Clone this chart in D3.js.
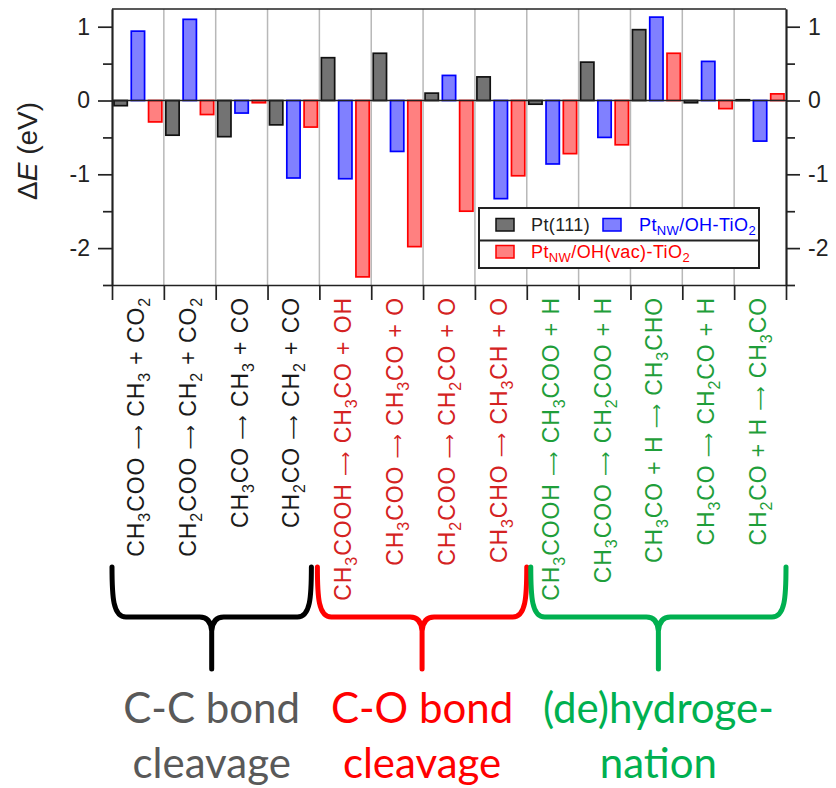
<!DOCTYPE html>
<html><head><meta charset="utf-8">
<script src="https://cdn.jsdelivr.net/npm/d3@7"></script>
<style>
html,body{margin:0;padding:0;background:#fff;}
svg{display:block;}
</style></head>
<body><div id="chart"></div>
<script>
// ---- data ----
const categories = [
  "CH_3COO → CH_3 + CO_2",
  "CH_2COO → CH_2 + CO_2",
  "CH_3CO → CH_3 + CO",
  "CH_2CO → CH_2 + CO",
  "CH_3COOH → CH_3CO + OH",
  "CH_3COO → CH_3CO + O",
  "CH_2COO → CH_2CO + O",
  "CH_3CHO → CH_3CH + O",
  "CH_3COOH → CH_3COO + H",
  "CH_3COO → CH_2COO + H",
  "CH_3CO + H → CH_3CHO",
  "CH_3CO → CH_2CO + H",
  "CH_2CO + H → CH_3CO"
];
const categoryGroup = ["cc","cc","cc","cc","co","co","co","co","dh","dh","dh","dh","dh"];
const seriesNames = ["Pt(111)", "Pt_NW/OH-TiO_2", "Pt_NW/OH(vac)-TiO_2"];
const pt111   = [-0.07, -0.47, -0.49, -0.33, 0.58, 0.64, 0.10, 0.32, -0.05, 0.52, 0.96, -0.03, 0.01];
const ptNwOH  = [0.94, 1.10, -0.17, -1.05, -1.06, -0.69, 0.34, -1.33, -0.86, -0.50, 1.13, 0.53, -0.55];
const ptNwVac = [-0.29, -0.19, -0.03, -0.36, -2.39, -1.98, -1.50, -1.02, -0.72, -0.60, 0.64, -0.11, 0.09];
const yMajorTicks = [-2, -1, 0, 1];
const yMinorTicks = [-2.5, -1.5, -0.5, 0.5];
const groupNames = ["cc","co","dh"];
const groupLabels = [["C-C bond","cleavage"],["C-O bond","cleavage"],["(de)hydroge-","nation"]];
const groupFirst = [0, 4, 8];
const groupLast = [3, 7, 12];

// ---- styles ----
const W = 836, H = 788;
const mLeft = 112, mRight = 786, mTop = 9, mBottom = 285;
const seriesFill = ["#737373", "#8080ff", "#ff8080"];
const seriesStroke = ["#111111", "#0000ff", "#ff0000"];
const labelColor = {cc:"#1a1a1a", co:"#d42222", dh:"#1f9e3a"};
const braceColor = {cc:"#000000", co:"#ff0000", dh:"#00b050"};
const groupTextColor = {cc:"#595959", co:"#ff0000", dh:"#00b050"};
const sansFont = "'Liberation Sans', Arial, Helvetica, sans-serif";

const svg = d3.select("#chart").append("svg").attr("width", W).attr("height", H)
  .style("font-family", sansFont);
svg.append("rect").attr("width", W).attr("height", H).attr("fill", "#fff");

const x = d3.scaleBand().domain(d3.range(categories.length)).range([mLeft, mRight]).padding(0);
const xs = d3.scaleBand().domain([0,1,2]).range([0, x.bandwidth()]).paddingInner(0.23).paddingOuter(0.115);
const y = d3.scaleLinear().domain([-2.5, 1.24]).range([mBottom, mTop]);

// gridlines
svg.append("g").selectAll("line").data(d3.range(1, categories.length)).join("line")
  .attr("x1", d => x(d)).attr("x2", d => x(d)).attr("y1", mTop).attr("y2", mBottom)
  .attr("stroke", "#b8b8b8").attr("stroke-width", 1.5);

// bars
const seriesData = [pt111, ptNwOH, ptNwVac];
seriesData.forEach((vals, s) => {
  svg.append("g").selectAll("rect").data(vals).join("rect")
    .attr("x", (d, i) => x(i) + xs(s))
    .attr("width", xs.bandwidth())
    .attr("y", d => y(Math.max(0, d)))
    .attr("height", d => Math.max(0.8, Math.abs(y(d) - y(0))))
    .attr("fill", seriesFill[s])
    .attr("stroke", seriesStroke[s])
    .attr("stroke-width", 1.7);
});

// zero line
svg.append("line").attr("x1", mLeft).attr("x2", mRight).attr("y1", y(0)).attr("y2", y(0))
  .attr("stroke", "#222").attr("stroke-width", 1.6);

// axes
const axisStyle = g => {
  g.select(".domain").attr("stroke", "#222").attr("stroke-width", 1.7);
  g.selectAll(".tick line").attr("stroke", "#222").attr("stroke-width", 1.7);
  g.selectAll(".tick text").attr("fill", "#222").style("font-size", "23px")
    .style("font-family", sansFont);
};
const fmt = d => d < 0 ? "-" + Math.abs(d) : String(d);
svg.append("g").attr("transform", `translate(${mLeft},0)`)
  .call(d3.axisLeft(y).tickValues(yMajorTicks).tickSize(14).tickPadding(8).tickFormat(fmt).tickSizeOuter(0))
  .call(axisStyle);
svg.append("g").attr("transform", `translate(${mLeft},0)`)
  .call(d3.axisLeft(y).tickValues(yMinorTicks).tickSize(9).tickFormat("").tickSizeOuter(0))
  .call(axisStyle);
svg.append("g").attr("transform", `translate(${mRight},0)`)
  .call(d3.axisRight(y).tickValues(yMajorTicks).tickSize(14).tickPadding(8).tickFormat(fmt).tickSizeOuter(0))
  .call(axisStyle);
svg.append("g").attr("transform", `translate(${mRight},0)`)
  .call(d3.axisRight(y).tickValues(yMinorTicks).tickSize(9).tickFormat("").tickSizeOuter(0))
  .call(axisStyle);
// top frame
svg.append("line").attr("x1", mLeft).attr("x2", mRight).attr("y1", mTop).attr("y2", mTop)
  .attr("stroke", "#222").attr("stroke-width", 1.7);
// bottom axis with ticks at category boundaries
const xb = d3.scaleLinear().domain([0, categories.length]).range([mLeft, mRight]);
svg.append("g").attr("transform", `translate(0,${mBottom})`)
  .call(d3.axisBottom(xb).tickValues(d3.range(0, categories.length + 1)).tickSize(15).tickFormat("").tickSizeOuter(0))
  .call(axisStyle);

// y label
const yl = svg.append("text").attr("transform", `translate(37,${(mTop+mBottom)/2 + 4}) rotate(-90)`)
  .attr("text-anchor", "middle").style("font-size", "28px").attr("fill", "#222");
yl.append("tspan").text("Δ");
yl.append("tspan").style("font-style", "italic").text("E");
yl.append("tspan").text(" (eV)");

// subscripts helper
function tokens(str) {
  const out = [];
  const re = /_([0-9]+|NW)|(→)/g;
  let last = 0, m;
  while ((m = re.exec(str)) !== null) {
    if (m.index > last) out.push({t: str.slice(last, m.index), kind: "n"});
    if (m[2]) out.push({t: "⟶", kind: "arrow"});
    else out.push({t: m[1], kind: "sub"});
    last = m.index + m[0].length;
  }
  if (last < str.length) out.push({t: str.slice(last), kind: "n"});
  return out;
}
function rich(textSel, str, shift, subSize) {
  let down = false;
  tokens(str).forEach(tk => {
    const ts = textSel.append("tspan").text(tk.t);
    if (tk.kind === "sub") { ts.attr("dy", shift).style("font-size", subSize); down = true; }
    else if (down) { ts.attr("dy", -shift); down = false; }
    if (tk.kind === "arrow") ts.style("font-family", "'DejaVu Sans', sans-serif").style("font-size", "17px");
  });
}

// category labels
const lab = svg.append("g").selectAll("text").data(categories).join("text")
  .attr("transform", (d, i) => `translate(${x(i) + x.bandwidth()/2 + 6},${mBottom + 12}) rotate(-90)`)
  .attr("text-anchor", "end")
  .style("font-size", "23px")
  .style("letter-spacing", "0.9px")
  .attr("fill", (d, i) => labelColor[categoryGroup[i]]);
lab.each(function(d) { rich(d3.select(this), d, 6, "16px"); });

// legend
const lg = svg.append("g");
const lx0 = 479, lx1 = 759, ly0 = 208, ly1 = 268, lmid = 240.5;
lg.append("rect").attr("x", lx0).attr("y", ly0).attr("width", lx1 - lx0).attr("height", ly1 - ly0)
  .attr("fill", "#fff").attr("stroke", "#222").attr("stroke-width", 2);
lg.append("line").attr("x1", lx0).attr("x2", lx1).attr("y1", lmid).attr("y2", lmid)
  .attr("stroke", "#222").attr("stroke-width", 2);
const legendItems = [
  {s: 0, sx: 496, ty: 231, tx: 531},
  {s: 1, sx: 603, ty: 231, tx: 639},
  {s: 2, sx: 496, ty: 258, tx: 531}
];
const legendTextColor = ["#222", "#0000ff", "#ff0000"];
legendItems.forEach(it => {
  lg.append("rect").attr("x", it.sx).attr("y", it.ty - 12.5).attr("width", 18).attr("height", 12.5)
    .attr("fill", seriesFill[it.s]).attr("stroke", seriesStroke[it.s]).attr("stroke-width", 1.5);
  const t = lg.append("text").attr("x", it.tx).attr("y", it.ty).style("font-size", "18px")
    .style("letter-spacing", "0.4px").attr("fill", legendTextColor[it.s]);
  rich(t, seriesNames[it.s], 4, "13px");
});

// braces
const braceTop = 567, braceMid = 617, braceTip = 669;
const braceInset = [[0, -8], [-2, 0], [4, 0]];
groupNames.forEach((g, k) => {
  const x0 = x(groupFirst[k]) + braceInset[k][0];
  const x1 = x(groupLast[k]) + x.bandwidth() + braceInset[k][1];
  const xm = (x0 + x1) / 2;
  const p = d3.path();
  p.moveTo(x0, braceTop);
  p.bezierCurveTo(x0, braceMid - 20, x0 + 1, braceMid, x0 + 14, braceMid);
  p.lineTo(xm - 12, braceMid);
  p.quadraticCurveTo(xm - 1, braceMid, xm, braceMid + 14);
  p.lineTo(xm, braceTip);
  p.moveTo(x1, braceTop);
  p.bezierCurveTo(x1, braceMid - 20, x1 - 1, braceMid, x1 - 14, braceMid);
  p.lineTo(xm + 12, braceMid);
  p.quadraticCurveTo(xm + 1, braceMid, xm, braceMid + 14);
  svg.append("path").attr("d", p.toString()).attr("fill", "none")
    .attr("stroke", braceColor[g]).attr("stroke-width", 5).attr("stroke-linecap", "round")
    .attr("stroke-linejoin", "round");
  const t = svg.append("text").attr("text-anchor", "middle")
    .style("font-family", "Lato, 'Open Sans', sans-serif").style("font-size", "42px")
    .attr("fill", groupTextColor[g]);
  t.append("tspan").attr("x", xm).attr("y", 723).text(groupLabels[k][0]);
  t.append("tspan").attr("x", xm).attr("y", 778).text(groupLabels[k][1]);
});
</script>
</body></html>
